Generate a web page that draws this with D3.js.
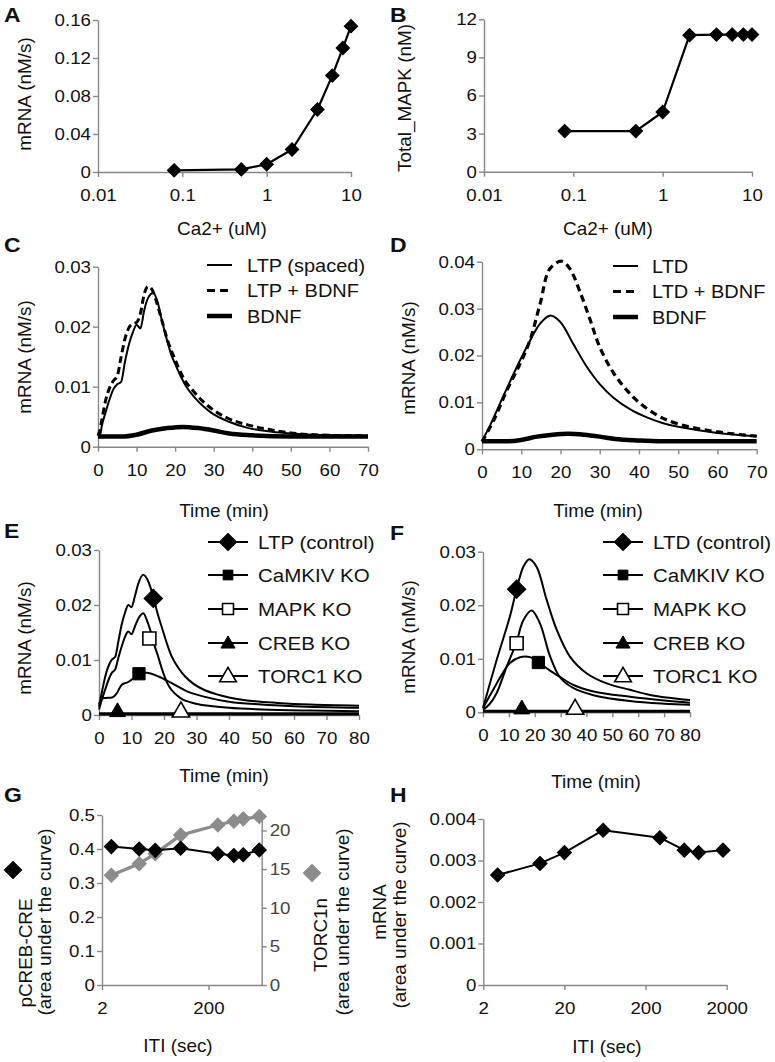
<!DOCTYPE html>
<html><head><meta charset="utf-8">
<script src="https://cdn.jsdelivr.net/npm/d3@7"></script>
<style>body{margin:0;background:#fff} svg{display:block;background:#fff}</style>
</head><body><svg id="c" width="775" height="1062"></svg>
<script>
// ---------------- DATA ----------------
// Panels A & B
const caConc = [0.08, 0.5, 1, 2, 4, 6, 8, 10];
const mrnaVsCa = [0.0018, 0.0027, 0.0082, 0.0237, 0.0658, 0.1015, 0.1305, 0.1535];
const mapkVsCa = [3.2, 3.2, 4.7, 10.75, 10.8, 10.8, 10.8, 10.8];
const caTicks = [0.01, 0.1, 1, 10];
const mrnaTicksA = [0, 0.04, 0.08, 0.12, 0.16];
const mapkTicksB = [0, 3, 6, 9, 12];

// Panel C  [time(min), mRNA(nM/s)]
const ltpSpaced = [[0,0.0018],[0.5,0.0019],[1,0.0035],[2,0.0058],[3,0.0079],[4,0.0096],[5,0.0104],[6,0.0108],[7,0.0142],[8,0.0170],[9,0.0190],[10,0.0203],[11,0.0197],[12,0.0228],[13,0.0248],[14.3,0.0256],[15.5,0.0240],[16.5,0.0212],[18,0.0175],[19,0.0153],[20,0.0138],[21.7,0.0114],[23,0.0099],[25.2,0.0081],[27,0.0069],[29.5,0.0056],[33.8,0.0042],[39,0.0031],[45,0.0025],[50,0.0022],[60,0.0019],[70,0.0018]];
const ltpBdnf = [[0,0.0018],[0.5,0.0028],[1,0.0045],[2,0.0078],[3,0.0098],[4,0.0110],[5,0.0118],[6,0.0150],[7,0.0180],[8,0.0198],[9,0.0205],[10,0.0207],[11,0.0222],[12,0.0255],[13,0.0267],[14,0.0262],[15,0.0245],[16.5,0.0212],[18,0.0178],[20,0.0145],[21.7,0.0120],[25.2,0.0089],[29.5,0.0063],[33.8,0.0047],[39,0.0036],[45,0.0028],[50,0.0023],[60,0.0019],[70,0.0018]];
const bdnfOnly = [[0,0.0017],[6,0.0017],[10,0.0020],[14,0.0027],[18,0.0031],[22,0.0033],[26,0.0031],[30,0.0027],[34,0.0022],[40,0.0019],[50,0.0017],[70,0.0017]];
// Panel D
const ltd = [[0,0.0018],[2,0.0050],[4.6,0.0098],[8,0.0160],[11.4,0.0218],[14.8,0.0268],[17.3,0.0285],[19.9,0.0272],[23.3,0.0224],[26.7,0.0176],[30,0.0139],[33.5,0.0110],[37.8,0.0085],[42,0.0068],[46,0.0056],[50,0.0048],[60,0.0035],[70,0.0028]];
const ltdBdnf = [[0,0.0016],[3,0.0062],[6.3,0.0125],[9.7,0.0182],[12.2,0.0232],[14.8,0.0310],[17.3,0.0385],[20.3,0.0401],[22.4,0.0385],[25,0.0335],[27.6,0.0275],[30,0.0218],[33.5,0.0163],[37,0.0125],[40,0.0100],[45,0.0071],[50,0.0054],[60,0.0037],[70,0.0028]];
const timeTicks70 = [0,10,20,30,40,50,60,70];
const timeTicks80 = [0,10,20,30,40,50,60,70,80];
const mrnaTicks03 = [0, 0.01, 0.02, 0.03];
const mrnaTicks04 = [0, 0.01, 0.02, 0.03, 0.04];

// Panel E
const ltpControl = [[0,0.0015],[1,0.0045],[2,0.0072],[3,0.0090],[4,0.0101],[5,0.0106],[6,0.0135],[7,0.0165],[8,0.0186],[9,0.0200],[10,0.0196],[11,0.0215],[12,0.0237],[13.6,0.0255],[15,0.0245],[16.7,0.0215],[18,0.0185],[19.3,0.0160],[21,0.0128],[22.4,0.0106],[24.5,0.0085],[26.5,0.0070],[29,0.0057],[32.6,0.0045],[36,0.0038],[40,0.0032],[48,0.0025],[55,0.0022],[65,0.0019],[80,0.0017]];
const camkivKoE = [[0,0.0020],[1,0.0030],[2,0.0031],[4,0.0032],[5.4,0.0039],[7,0.0055],[9,0.0060],[10.6,0.0067],[12.1,0.0075],[14.7,0.0077],[18.3,0.0070],[22.4,0.0058],[27.5,0.0042],[32.6,0.0033],[40,0.0024],[50,0.0019],[60,0.0016],[80,0.0013]];
const mapkKoE = [[0,0.0010],[1,0.0030],[2,0.0048],[3,0.0065],[4,0.0077],[5,0.0083],[6,0.0105],[7,0.0125],[8,0.0142],[9,0.0152],[10,0.0147],[11,0.0160],[12,0.0174],[13.6,0.0185],[15,0.0168],[16,0.0150],[17,0.0128],[18,0.0110],[19.8,0.0076],[21,0.0058],[22.4,0.0045],[25,0.0031],[29.5,0.0021],[35,0.0016],[40,0.0013],[50,0.0010],[65,0.0008],[80,0.0007]];
const crebKoE = [[0,0.0003],[80,0.0003]];
const torc1KoE = [[0,0.0001],[80,0.0001]];
const markersE = {ltp:[16.7,0.0212], camkiv:[12.3,0.0075], mapk:[15.5,0.0139], creb:[5.7,0], torc1:[25.2,0]};

// Panel F
const ltdControl = [[0,0.0008],[5.3,0.0098],[10.4,0.0179],[13,0.0230],[15.6,0.0272],[17.9,0.0286],[20.7,0.0272],[24.6,0.0210],[28.5,0.0154],[33.6,0.0104],[40,0.0073],[47.8,0.0054],[56.8,0.0042],[65,0.0032],[80,0.0023]];
const camkivKoF = [[0,0.0008],[2.5,0.0030],[5.3,0.0054],[8,0.0076],[10.4,0.0092],[14.3,0.0103],[18.2,0.0103],[21.4,0.0093],[25.9,0.0078],[29.8,0.0066],[35,0.0051],[42.7,0.0039],[56.8,0.0029],[70,0.0022],[80,0.0018]];
const mapkKoF = [[0,0.0005],[2.5,0.0015],[5.3,0.0036],[9.1,0.0085],[12.8,0.0129],[15.6,0.0172],[18.8,0.0190],[22,0.0166],[25.9,0.0105],[29.8,0.0065],[35,0.0045],[42.7,0.0032],[56.8,0.0021],[70,0.0016],[80,0.0014]];
const crebKoF = [[0,0.0003],[80,0.0003]];
const torc1KoF = [[0,0.0001],[80,0.0001]];
const markersF = {ltd:[13,0.0230], camkiv:[21.4,0.0093], mapk:[13,0.0129], creb:[15,0], torc1:[35.6,0]};

// Panels G & H
const iti = [3, 10, 20, 60, 300, 600, 900, 1800];
const pcrebAuc = [0.407, 0.400, 0.396, 0.402, 0.386, 0.381, 0.383, 0.397];
const torc1nAuc = [14.2, 15.7, 17.0, 19.4, 20.7, 21.2, 21.5, 21.8];
const mrnaAuc = [0.00265, 0.00293, 0.00319, 0.00373, 0.00355, 0.00325, 0.00319, 0.00325];
const itiTicksG = [2, 200];
const itiTicksH = [2, 20, 200, 2000];
const pcrebTicks = [0, 0.1, 0.2, 0.3, 0.4, 0.5];
const torcTicks = [0, 5, 10, 15, 20];
const aucTicksH = [0, 0.001, 0.002, 0.003, 0.004];

// ---------------- DRAWING ----------------
const svg = d3.select("#c");
const FONT = "'Liberation Sans', Arial, sans-serif";
const AX = "#878787";
const TXT = "#111";

function label(x, y, str, o = {}) {
  const size = o.size || 17.5, rot = o.rot || 0, sx = o.sx || 1.08;
  return svg.append("text")
    .attr("transform", `translate(${x},${y}) rotate(${rot}) scale(${sx},1)`)
    .attr("text-anchor", o.anchor || "middle")
    .attr("font-family", FONT)
    .attr("font-size", size)
    .attr("font-weight", o.weight || "normal")
    .attr("fill", o.fill || TXT)
    .text(str);
}
function styleAxis(g, txtFill) {
  g.attr("font-family", FONT);
  g.select(".domain").attr("stroke", AX).attr("stroke-width", 1.4);
  g.selectAll(".tick line").attr("stroke", AX).attr("stroke-width", 1.4);
  g.selectAll(".tick text").each(function () {
    const t = d3.select(this);
    const x = +t.attr("x") || 0, y = +t.attr("y") || 0;
    t.attr("x", null).attr("y", null)
      .attr("transform", `translate(${x},${y}) scale(1.1,1)`)
      .attr("font-size", 17).attr("fill", txtFill || TXT);
  });
}
const fmt = d3.format("~g");
function axes(x, y, xt, yt, xf) {
  const gx = svg.append("g").attr("transform", `translate(0,${y.range()[0]})`)
    .call(d3.axisBottom(x).tickValues(xt).tickFormat(xf || fmt).tickSize(5).tickSizeOuter(0).tickPadding(12));
  const gy = svg.append("g").attr("transform", `translate(${x.range()[0]},0)`)
    .call(d3.axisLeft(y).tickValues(yt).tickFormat(fmt).tickSize(5).tickSizeOuter(0).tickPadding(2));
  styleAxis(gx); styleAxis(gy);
}
function drawLine(data, x, y, o = {}) {
  const gen = d3.line().x(d => x(d[0])).y(d => y(d[1])).curve(o.curve || d3.curveMonotoneX);
  const p = svg.append("path").datum(data).attr("d", gen)
    .attr("fill", "none").attr("stroke", o.color || "#000")
    .attr("stroke-width", o.width || 2).attr("stroke-linejoin", "round");
  if (o.dash) p.attr("stroke-dasharray", o.dash);
  return p;
}
const sqSym = (s) => d3.symbol().type(d3.symbolSquare).size(s)();
const triSym = (s) => d3.symbol().type(d3.symbolTriangle).size(s)();
function marker(cx, cy, kind, o = {}) {
  const s = o.size;
  let p;
  if (kind === "diamond") {
    p = svg.append("path").attr("d", sqSym(s || 100)).attr("transform", `translate(${cx},${cy}) rotate(45)`);
  } else if (kind === "square") {
    p = svg.append("path").attr("d", sqSym(s || 130)).attr("transform", `translate(${cx},${cy})`);
  } else {
    p = svg.append("path").attr("d", triSym(s || 95)).attr("transform", `translate(${cx},${cy + 1})`);
  }
  p.attr("fill", o.open ? "#fff" : (o.color || "#000"))
   .attr("stroke", o.color || "#000").attr("stroke-width", o.open ? 1.6 : 1);
  return p;
}
function letter(x, y, s) { label(x, y, s, {size: 20, weight: "bold", anchor: "start", sx: 1.15}); }

// ---- Panel A ----
{
  const x = d3.scaleLog().domain([0.01, 10]).range([98, 351]);
  const y = d3.scaleLinear().domain([0, 0.16]).range([172, 20]);
  axes(x, y, caTicks, mrnaTicksA);
  const pts = caConc.map((c, i) => [c, mrnaVsCa[i]]);
  drawLine(pts, x, y, {curve: d3.curveLinear, width: 2.2});
  pts.forEach(d => marker(x(d[0]), y(d[1]), "diamond", {size: 90}));
  label(222, 235, "Ca2+ (uM)");
  label(31, 94, "mRNA (nM/s)", {rot: -90});
  letter(4, 22, "A");
}
// ---- Panel B ----
{
  const x = d3.scaleLog().domain([0.01, 10]).range([484, 752]);
  const y = d3.scaleLinear().domain([0, 12]).range([171.7, 19.3]);
  axes(x, y, caTicks, mapkTicksB);
  const pts = caConc.map((c, i) => [c, mapkVsCa[i]]);
  drawLine(pts, x, y, {curve: d3.curveLinear, width: 2.2});
  pts.forEach(d => marker(x(d[0]), y(d[1]), "diamond", {size: 90}));
  label(608, 235, "Ca2+ (uM)");
  label(411, 98, "Total_MAPK (nM)", {rot: -90});
  letter(390, 22, "B");
}
// ---- Panel C ----
{
  const x = d3.scaleLinear().domain([0, 70]).range([98, 368]);
  const y = d3.scaleLinear().domain([0, 0.03]).range([446.7, 266.7]);
  axes(x, y, timeTicks70, mrnaTicks03);
  drawLine(bdnfOnly, x, y, {width: 4.5});
  drawLine(ltpBdnf, x, y, {width: 3, dash: "7,4"});
  drawLine(ltpSpaced, x, y, {width: 2});
  const lg = [["LTP (spaced)", 2, null], ["LTP + BDNF", 3, "7,4"], ["BDNF", 4.5, null]];
  lg.forEach((l, i) => {
    const yy = 265 + i * 25.5;
    const p = svg.append("line").attr("x1", 207).attr("x2", 232).attr("y1", yy).attr("y2", yy)
      .attr("stroke", "#000").attr("stroke-width", l[1]);
    if (l[2]) p.attr("stroke-dasharray", "8,5");
    label(247, yy + 6.5, l[0], {size: 18.5, anchor: "start"});
  });
  label(224, 517, "Time (min)");
  label(31, 357, "mRNA (nM/s)", {rot: -90});
  letter(4, 252, "C");
}
// ---- Panel D ----
{
  const x = d3.scaleLinear().domain([0, 70]).range([482, 756.7]);
  const y = d3.scaleLinear().domain([0, 0.04]).range([449.3, 261.7]);
  axes(x, y, timeTicks70, mrnaTicks04);
  drawLine(bdnfOnly, x, y, {width: 4.5});
  drawLine(ltdBdnf, x, y, {width: 3.2, dash: "7,4.5", curve: d3.curveCatmullRom});
  drawLine(ltd, x, y, {width: 2, curve: d3.curveCatmullRom});
  const lg = [["LTD", 2, null], ["LTD + BDNF", 3, "7,4"], ["BDNF", 4.5, null]];
  lg.forEach((l, i) => {
    const yy = 266 + i * 25.5;
    const p = svg.append("line").attr("x1", 613).attr("x2", 638).attr("y1", yy).attr("y2", yy)
      .attr("stroke", "#000").attr("stroke-width", l[1]);
    if (l[2]) p.attr("stroke-dasharray", "8,5");
    label(652, yy + 6.5, l[0], {size: 18.5, anchor: "start"});
  });
  label(598, 517, "Time (min)");
  label(415, 358, "mRNA (nM/s)", {rot: -90});
  letter(390, 252, "D");
}
// ---- legend for E/F ----
function koLegend(x0, first) {
  const rows = [[first, "diamond", false], ["CaMKIV KO", "square", false], ["MAPK KO", "square", true], ["CREB KO", "tri", false], ["TORC1 KO", "tri", true]];
  const ys = [542, 575, 609, 643, 676];
  rows.forEach((r, i) => {
    const yy = ys[i];
    svg.append("line").attr("x1", x0).attr("x2", x0 + 40).attr("y1", yy).attr("y2", yy)
      .attr("stroke", "#000").attr("stroke-width", 2);
    const sz = r[1] === "diamond" ? 150 : (r[1] === "square" ? (r[2] ? 120 : 95) : (r[2] ? 120 : 85));
    marker(x0 + 20, yy, r[1], {open: r[2], size: sz});
    label(x0 + 50, yy + 7, r[0], {size: 19, anchor: "start"});
  });
}
// ---- Panel E ----
{
  const x = d3.scaleLinear().domain([0, 80]).range([99, 359]);
  const y = d3.scaleLinear().domain([0, 0.03]).range([715, 550]);
  axes(x, y, timeTicks80, mrnaTicks03);
  [torc1KoE, crebKoE, camkivKoE, mapkKoE, ltpControl].forEach(d => drawLine(d, x, y, {width: 2}));
  const m = markersE;
  marker(x(m.ltp[0]), y(m.ltp[1]), "diamond", {size: 170});
  marker(x(m.mapk[0]), y(m.mapk[1]), "square", {open: true, size: 170});
  marker(x(m.camkiv[0]), y(m.camkiv[1]), "square", {size: 150});
  marker(x(m.creb[0]), y(m.creb[1]) - 4, "tri", {size: 110});
  marker(x(m.torc1[0]), y(m.torc1[1]) - 4, "tri", {open: true, size: 130});
  koLegend(208, "LTP (control)");
  label(224, 782, "Time (min)");
  label(31, 638, "mRNA (nM/s)", {rot: -90});
  letter(4, 538, "E");
}
// ---- Panel F ----
{
  const x = d3.scaleLinear().domain([0, 80]).range([483, 690]);
  const y = d3.scaleLinear().domain([0, 0.03]).range([712.3, 551.7]);
  axes(x, y, timeTicks80, mrnaTicks03);
  [torc1KoF, crebKoF, camkivKoF, mapkKoF, ltdControl].forEach(d => drawLine(d, x, y, {width: 2, curve: d3.curveCatmullRom}));
  const m = markersF;
  marker(x(m.ltd[0]), y(m.ltd[1]), "diamond", {size: 170});
  marker(x(m.mapk[0]), y(m.mapk[1]), "square", {open: true, size: 170});
  marker(x(m.camkiv[0]), y(m.camkiv[1]), "square", {size: 150});
  marker(x(m.creb[0]), y(m.creb[1]) - 4, "tri", {size: 110});
  marker(x(m.torc1[0]), y(m.torc1[1]) - 4, "tri", {open: true, size: 130});
  koLegend(603, "LTD (control)");
  label(596, 788, "Time (min)");
  label(415, 637, "mRNA (nM/s)", {rot: -90});
  letter(390, 540, "F");
}
// ---- Panel G ----
{
  const x = d3.scaleLog().domain([2, 2000]).range([102, 261.7]);
  const y = d3.scaleLinear().domain([0, 0.5]).range([985, 815]);
  const y2 = d3.scaleLinear().domain([0, 22]).range([985, 815]);
  axes(x, y, itiTicksG, pcrebTicks, d => d);
  const gr = svg.append("g").attr("transform", `translate(261.7,0)`)
    .call(d3.axisRight(y2).tickValues(torcTicks).tickSize(5).tickSizeOuter(0).tickPadding(3));
  styleAxis(gr, "#444");
  const GRAY = "#8c8c8c";
  const tp = iti.map((t, i) => [t, torc1nAuc[i]]);
  drawLine(tp, x, y2, {curve: d3.curveLinear, width: 3.2, color: GRAY});
  tp.forEach(d => marker(x(d[0]), y2(d[1]), "diamond", {size: 100, color: GRAY}));
  const pp = iti.map((t, i) => [t, pcrebAuc[i]]);
  drawLine(pp, x, y, {curve: d3.curveLinear, width: 2});
  pp.forEach(d => marker(x(d[0]), y(d[1]), "diamond", {size: 100}));
  label(178, 1052, "ITI (sec)");
  label(32, 953, "pCREB-CRE", {rot: -90});
  label(51, 922, "(area under the curve)", {rot: -90});
  marker(13, 870, "diamond", {size: 150});
  label(327, 935, "TORC1n", {rot: -90});
  label(349, 922, "(area under the curve)", {rot: -90});
  marker(312, 873, "diamond", {size: 150, color: GRAY});
  letter(4, 802, "G");
}
// ---- Panel H ----
{
  const x = d3.scaleLog().domain([2, 2000]).range([483.3, 726.7]);
  const y = d3.scaleLinear().domain([0, 0.004]).range([985, 819]);
  axes(x, y, itiTicksH, aucTicksH, d => d);
  const pts = iti.map((t, i) => [t, mrnaAuc[i]]);
  drawLine(pts, x, y, {curve: d3.curveLinear, width: 2});
  pts.forEach(d => marker(x(d[0]), y(d[1]), "diamond", {size: 100}));
  label(607, 1053, "ITI (sec)");
  label(386, 912, "mRNA", {rot: -90});
  label(406, 915, "(area under the curve)", {rot: -90});
  letter(390, 802, "H");
}
</script></body></html>
